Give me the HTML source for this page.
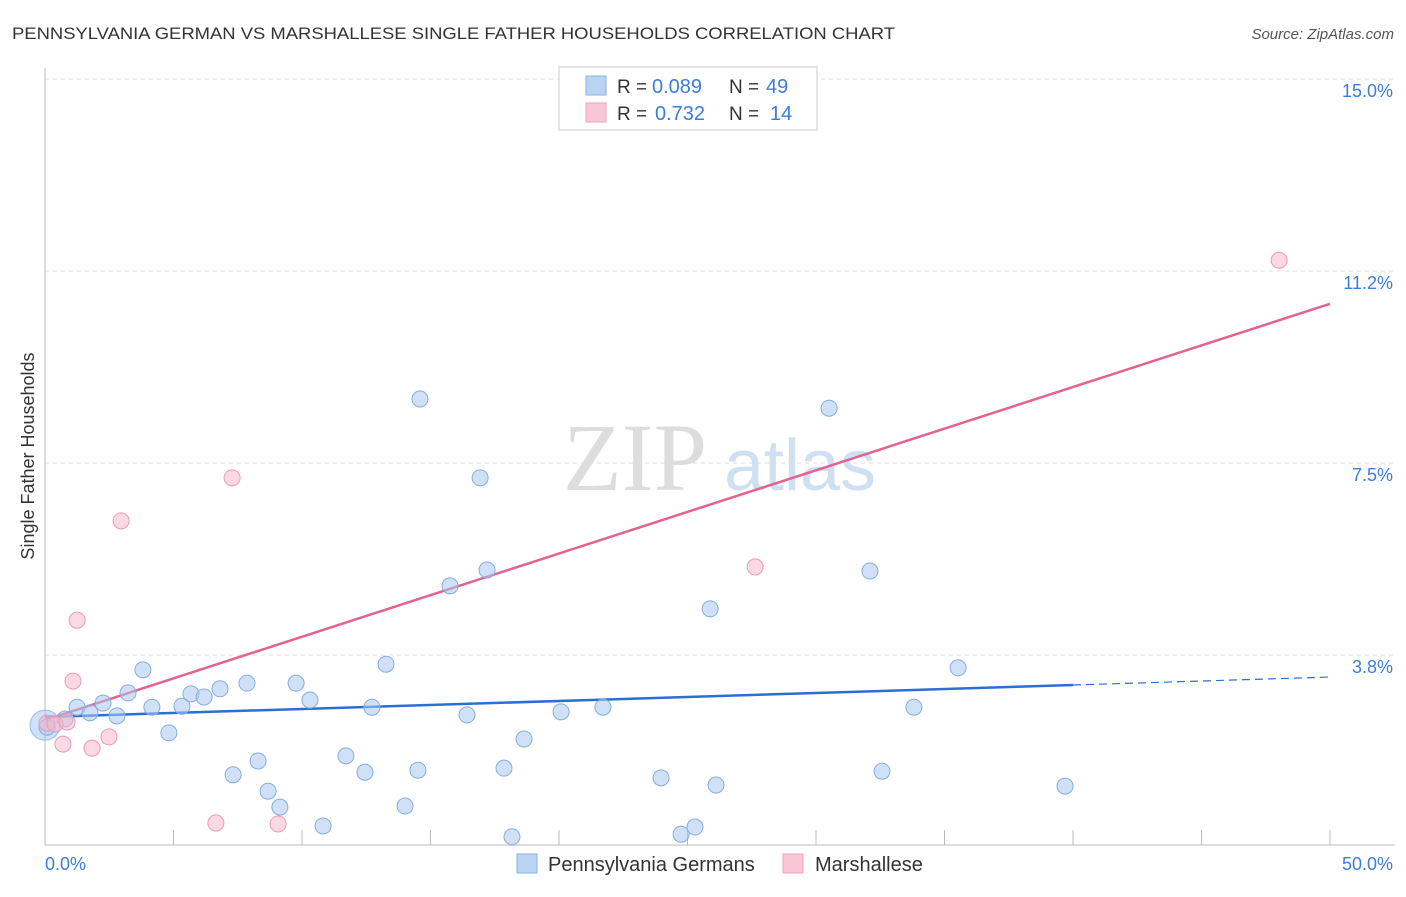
<!DOCTYPE html>
<html><head><meta charset="utf-8"><style>
body{margin:0;background:#fff;font-family:"Liberation Sans",sans-serif;}
</style></head><body>
<svg id="chart" width="1406" height="892" viewBox="0 0 1406 892" xmlns="http://www.w3.org/2000/svg" font-family="Liberation Sans, sans-serif">
<text x="12" y="39" font-size="17" fill="#333" textLength="883" lengthAdjust="spacingAndGlyphs">PENNSYLVANIA GERMAN VS MARSHALLESE SINGLE FATHER HOUSEHOLDS CORRELATION CHART</text>
<text x="1394" y="39" font-size="15" fill="#555" font-style="italic" text-anchor="end">Source: ZipAtlas.com</text>
<g>
<text x="635" y="490" font-size="96" fill="#ddd" font-family="Liberation Serif, serif" text-anchor="middle">ZIP</text>
<text x="800" y="490" font-size="72" fill="#cfe0f3" text-anchor="middle">atlas</text>
</g>
<g id="grid"></g><g id="axes"></g><g id="lines"></g><g id="points"></g>
<text transform="translate(34,456) rotate(-90)" font-size="18" fill="#333" text-anchor="middle">Single Father Households</text>
<g>
<rect x="559" y="67" width="258" height="63" fill="#fff" stroke="#ccc"/>
<rect x="586" y="76" width="20" height="19" fill="#b9d3f3" stroke="#8ab0e0"/>
<rect x="586" y="103" width="20" height="19" fill="#f9c6d5" stroke="#eea3b8"/>
<text x="617" y="93" font-size="19" fill="#333">R =</text>
<text x="652" y="93" font-size="20" fill="#3b7dd8">0.089</text>
<text x="729" y="93" font-size="19" fill="#333">N =</text>
<text x="766" y="93" font-size="20" fill="#3b7dd8">49</text>
<text x="617" y="120" font-size="19" fill="#333">R =</text>
<text x="655" y="120" font-size="20" fill="#3b7dd8">0.732</text>
<text x="729" y="120" font-size="19" fill="#333">N =</text>
<text x="770" y="120" font-size="20" fill="#3b7dd8">14</text>
</g>
<g>
<rect x="517" y="854" width="20" height="19" fill="#b9d3f3" stroke="#8ab0e0"/>
<text x="548" y="871" font-size="20" fill="#333">Pennsylvania Germans</text>
<rect x="783" y="854" width="20" height="19" fill="#f9c6d5" stroke="#eea3b8"/>
<text x="815" y="871" font-size="20" fill="#333">Marshallese</text>
</g>
</svg>
<script>
const yTicks=[3.75,7.5,11.25,15];
const yTickLabels=["3.8%","7.5%","11.2%","15.0%"];
const xTickLabels=["0.0%","50.0%"];
const blueX=[0.08,0.78,1.25,1.75,2.26,2.80,3.23,3.81,4.16,4.82,5.33,5.68,6.19,6.81,7.32,7.86,8.29,8.68,9.14,9.77,10.31,10.82,11.71,12.45,12.72,13.27,14.01,14.51,14.59,15.76,16.42,16.93,17.20,17.86,18.17,18.64,20.08,21.71,23.97,24.75,25.29,25.88,26.11,30.51,32.10,32.57,33.81,35.53,39.69];
const blueY=[2.34,2.50,2.73,2.62,2.81,2.56,3.01,3.46,2.73,2.23,2.75,2.99,2.93,3.09,1.41,3.20,1.68,1.09,0.78,3.20,2.87,0.41,1.78,1.46,2.73,3.57,0.80,1.50,8.75,5.10,2.58,7.21,5.41,1.54,0.20,2.11,2.64,2.73,1.35,0.25,0.39,4.65,1.21,8.57,5.39,1.48,2.73,3.50,1.19];
const pinkX=[0.08,0.39,0.70,0.86,1.09,1.25,1.83,2.49,2.96,6.65,7.28,9.07,27.63,48.02];
const pinkY=[2.42,2.40,2.01,2.44,3.24,4.43,1.93,2.15,6.37,0.47,7.21,0.45,5.47,11.46];
const blueTrend=[2.54,3.32];
const pinkTrend=[2.48,10.61];
const NS="http://www.w3.org/2000/svg";
const X=v=>45+v/50*1285, Y=v=>847-v*51.2;
function mk(t,a,p){const e=document.createElementNS(NS,t);for(const k in a)e.setAttribute(k,a[k]);document.getElementById(p).appendChild(e);return e;}
yTicks.forEach((t,i)=>{
 const l=mk('line',{x1:45,x2:1395,y1:Y(t),y2:Y(t),stroke:'#ddd','stroke-dasharray':'4,4'},'grid');
 
 
 const tx=mk('text',{x:1393,y:Y(t)+18,'font-size':18,fill:'#3b7dd8','text-anchor':'end'},'grid');
 tx.textContent=yTickLabels[i];
 
 
});
let a=mk('line',{x1:45,x2:45,y1:68,y2:845,stroke:'#bbb'},'axes');


a=mk('line',{x1:45,x2:1395,y1:845,y2:845,stroke:'#bbb'},'axes');


for(let i=1;i<=10;i++){const t=mk('line',{x1:X(i*5),x2:X(i*5),y1:830,y2:845,stroke:'#bbb'},'axes');
 
 }
[[0,'start',45],[1,'end',1393]].forEach(([i,anc,x])=>{const t=mk('text',{x:x,y:870,'font-size':18,fill:'#3b7dd8','text-anchor':anc},'axes');t.textContent=xTickLabels[i];
 
 });
const bt=v=>blueTrend[0]+(blueTrend[1]-blueTrend[0])*v/50;
let l=mk('line',{x1:X(0),y1:Y(bt(0)),x2:X(40),y2:Y(bt(40)),stroke:'#2a6fd6','stroke-width':2.5},'lines');


l=mk('line',{x1:X(40),y1:Y(bt(40)),x2:X(50),y2:Y(bt(50)),stroke:'#2a6fd6','stroke-width':1.2,'stroke-dasharray':'8,5'},'lines');


l=mk('line',{x1:X(0),y1:Y(pinkTrend[0]),x2:X(50),y2:Y(pinkTrend[1]),stroke:'#e4628e','stroke-width':2.5},'lines');


const big=mk('circle',{cx:X(0),cy:Y(2.38),r:15,fill:'rgba(160,195,240,0.5)',stroke:'#9bbbe6'},'points');


blueX.forEach((x,i)=>{const c=mk('circle',{cx:X(x),cy:Y(blueY[i]),r:8,fill:'rgba(169,200,240,0.55)',stroke:'#86ace0','stroke-width':1},'points');
 
 });
pinkX.forEach((x,i)=>{const c=mk('circle',{cx:X(x),cy:Y(pinkY[i]),r:8,fill:'rgba(247,184,204,0.55)',stroke:'#eb9ab4','stroke-width':1},'points');
 
 });
</script>
</body></html>
